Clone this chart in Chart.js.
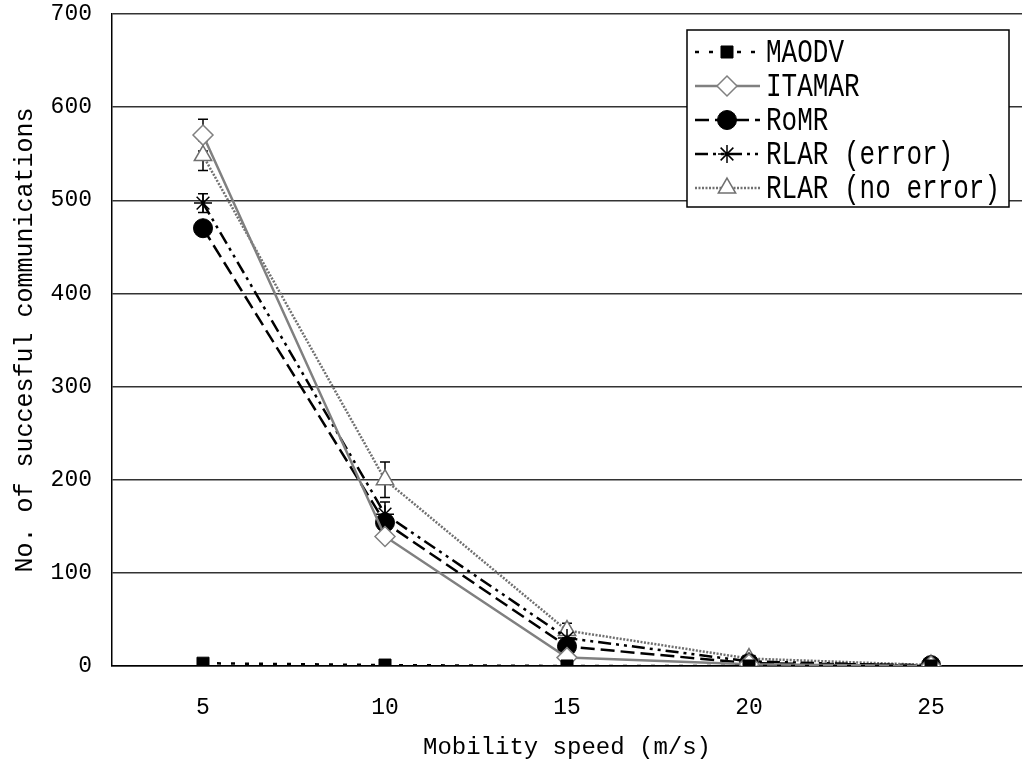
<!DOCTYPE html>
<html>
<head>
<meta charset="utf-8">
<script src="https://cdn.jsdelivr.net/npm/chart.js@4.4.0/dist/chart.umd.min.js"></script>
<style>
  html, body { margin: 0; padding: 0; background: #fff; }
  canvas { display: block; }
</style>
</head>
<body>
<canvas id="speedChart" width="1023" height="766"></canvas>
<script>
const speeds = ['5', '10', '15', '20', '25'];

const maodv = [3, 1, 0, 0, 0];
const itamar = [570, 139, 9, 2, 0];
const romr = [470, 154, 21, 3, 1];
const rlarError = [497, 163, 30, 5, 0];
const rlarNoError = [548, 200, 38, 8, 1];

// half-length of the error bars
const itamarErr = [17, 0, 0, 0, 0];
const rlarErrorErr = [10, 13, 0, 0, 0];
const rlarNoErrorErr = [16, 19, 8, 0, 0];

const yMin = 0, yMax = 700, yStep = 100;

const FONT = '"Liberation Mono", "DejaVu Sans Mono", monospace';

// vertical error bars, drawn under the lines and markers
const errorBars = {
  id: 'errorBars',
  beforeDatasetsDraw(chart) {
    const ctx = chart.ctx;
    const y = chart.scales.y;
    ctx.save();
    ctx.strokeStyle = '#000';
    ctx.lineWidth = 1.5;
    chart.data.datasets.forEach((ds, i) => {
      if (!ds.errors) return;
      const meta = chart.getDatasetMeta(i);
      meta.data.forEach((pt, j) => {
        const e = ds.errors[j];
        if (!e) return;
        const top = y.getPixelForValue(ds.data[j] + e);
        const bot = y.getPixelForValue(ds.data[j] - e);
        ctx.beginPath();
        ctx.moveTo(pt.x, top); ctx.lineTo(pt.x, bot);
        ctx.moveTo(pt.x - 5, top); ctx.lineTo(pt.x + 5, top);
        ctx.moveTo(pt.x - 5, bot); ctx.lineTo(pt.x + 5, bot);
        ctx.stroke();
      });
    });
    ctx.restore();
  }
};

// boxed legend inside the plot, line sample + marker like the original
const boxLegend = {
  id: 'boxLegend',
  afterDraw(chart) {
    const ctx = chart.ctx;
    const x0 = 687, y0 = 30, w = 322, h = 177;
    ctx.save();
    ctx.fillStyle = '#fff';
    ctx.fillRect(x0, y0, w, h);
    ctx.strokeStyle = '#000';
    ctx.lineWidth = 1.5;
    ctx.strokeRect(x0, y0, w, h);
    chart.data.datasets.forEach((ds, i) => {
      const y = 52 + i * 34;
      ctx.strokeStyle = ds.borderColor;
      ctx.lineWidth = ds.borderWidth;
      ctx.setLineDash(ds.borderDash || []);
      ctx.beginPath();
      ctx.moveTo(695, y);
      ctx.lineTo(760, y);
      ctx.stroke();
      ctx.setLineDash([]);
      ctx.fillStyle = ds.pointBackgroundColor;
      ctx.strokeStyle = ds.pointBorderColor;
      ctx.lineWidth = ds.pointBorderWidth;
      Chart.helpers.drawPoint(ctx, {
        pointStyle: ds.pointStyle,
        radius: ds.pointRadius,
        borderWidth: ds.pointBorderWidth,
        rotation: 0
      }, 727, y);
      ctx.save();
      ctx.translate(766, y + 1);
      ctx.scale(1, 1.25);
      ctx.fillStyle = '#000';
      ctx.font = '26px ' + FONT;
      ctx.textBaseline = 'middle';
      ctx.fillText(ds.label, 0, 0);
      ctx.restore();
    });
    ctx.restore();
  }
};

const ctx = document.getElementById('speedChart').getContext('2d');

new Chart(ctx, {
  type: 'line',
  data: {
    labels: speeds,
    datasets: [
      {
        label: 'MAODV',
        data: maodv,
        borderColor: '#000',
        borderWidth: 2.5,
        borderDash: [4, 10],
        pointStyle: 'rect',
        pointRadius: 8.5,
        pointBackgroundColor: '#000',
        pointBorderColor: '#000',
        pointBorderWidth: 1
      },
      {
        label: 'ITAMAR',
        data: itamar,
        errors: itamarErr,
        borderColor: '#808080',
        borderWidth: 2.5,
        pointStyle: 'rectRot',
        pointRadius: 10,
        pointBackgroundColor: '#fff',
        pointBorderColor: '#808080',
        pointBorderWidth: 1.5
      },
      {
        label: 'RoMR',
        data: romr,
        borderColor: '#000',
        borderWidth: 2.5,
        borderDash: [14, 6],
        pointStyle: 'circle',
        pointRadius: 9.5,
        pointBackgroundColor: '#000',
        pointBorderColor: '#000',
        pointBorderWidth: 1
      },
      {
        label: 'RLAR (error)',
        data: rlarError,
        errors: rlarErrorErr,
        borderColor: '#000',
        borderWidth: 2.5,
        borderDash: [13, 5, 3, 5, 3, 5],
        pointStyle: 'star',
        pointRadius: 9,
        pointBackgroundColor: '#000',
        pointBorderColor: '#000',
        pointBorderWidth: 1.5
      },
      {
        label: 'RLAR (no error)',
        data: rlarNoError,
        errors: rlarNoErrorErr,
        borderColor: '#707070',
        borderWidth: 2.5,
        borderDash: [2, 1.5],
        pointStyle: 'triangle',
        pointRadius: 10,
        pointBackgroundColor: '#fff',
        pointBorderColor: '#707070',
        pointBorderWidth: 1.5
      }
    ]
  },
  options: {
    responsive: false,
    animation: false,
    layout: {
      autoPadding: false,
      padding: { top: 14, right: 1, left: 0, bottom: 0 }
    },
    elements: {
      line: { tension: 0, fill: false }
    },
    scales: {
      x: {
        offset: true,
        grid: { display: false, drawTicks: false },
        border: { display: true, color: '#000', width: 1.5 },
        ticks: {
          padding: 28,
          color: '#000',
          font: { family: FONT, size: 23 }
        },
        title: {
          display: true,
          text: 'Mobility speed (m/s)',
          color: '#000',
          font: { family: FONT, size: 24 },
          padding: { top: 0, bottom: 4 }
        },
        afterFit(scale) {
          scale.height = 100;
          scale.paddingLeft = 0;
          scale.paddingRight = 0;
        }
      },
      y: {
        min: yMin,
        max: yMax,
        ticks: {
          stepSize: yStep,
          padding: 20,
          color: '#000',
          font: { family: FONT, size: 23 }
        },
        grid: { color: '#333', lineWidth: 1.5, drawTicks: false },
        border: { display: true, color: '#000', width: 1.5 },
        title: {
          display: true,
          text: 'No. of succesful communications',
          color: '#000',
          font: { family: FONT, size: 25 },
          padding: { top: 10, bottom: 0 }
        },
        afterFit(scale) {
          scale.width = 112;
          scale.paddingTop = 0;
          scale.paddingBottom = 0;
        }
      }
    },
    plugins: {
      legend: { display: false },
      tooltip: { enabled: false }
    }
  },
  plugins: [errorBars, boxLegend]
});
</script>
</body>
</html>
